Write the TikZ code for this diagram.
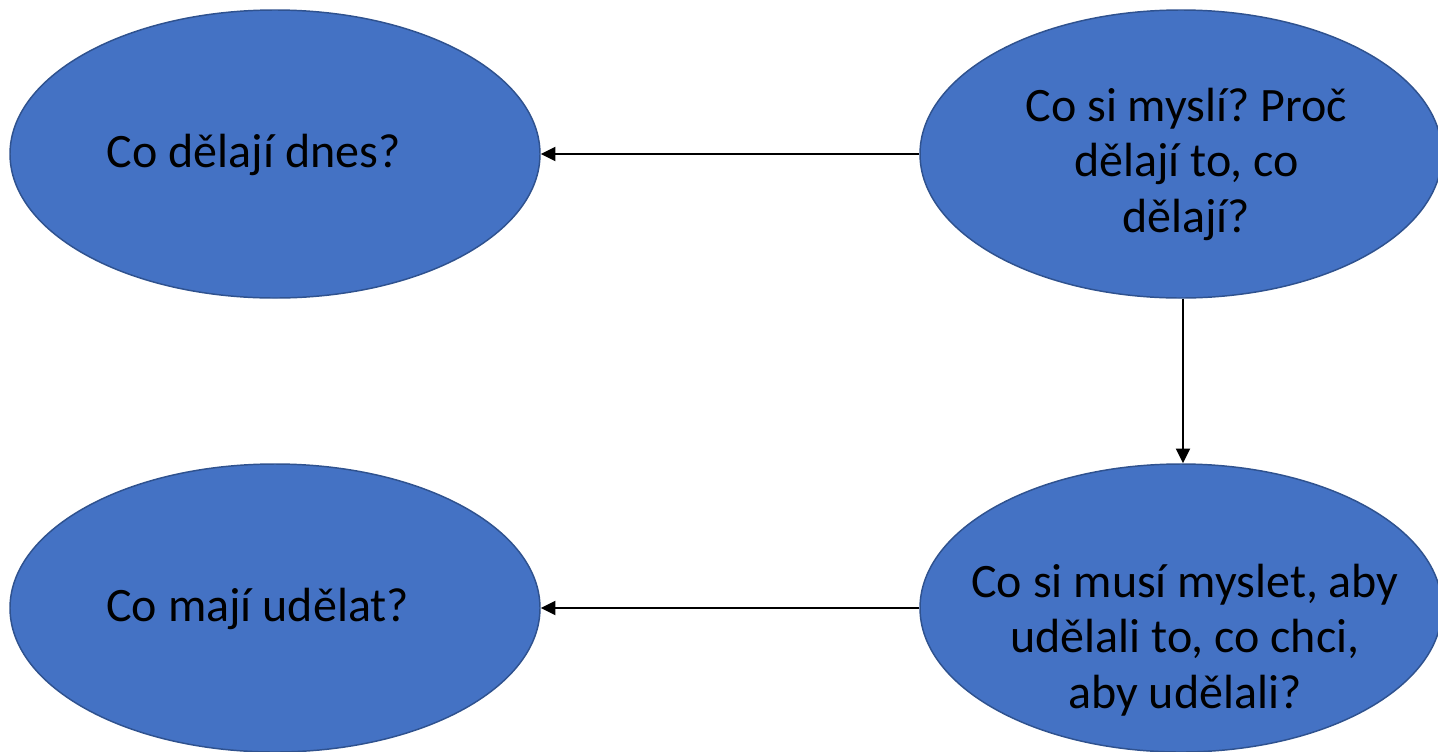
\documentclass[tikz,border=0pt]{standalone}
\usepackage{fontspec}
\setmainfont{Carlito}
\usetikzlibrary{shapes.geometric,arrows.meta}
\definecolor{ellfill}{HTML}{4472C4}
\definecolor{elldraw}{HTML}{2F528F}
\frenchspacing
\begin{document}
\frenchspacing
\begin{tikzpicture}[x=0.75pt,y=-0.75pt,
  bubble/.style={ellipse, fill=ellfill, draw=elldraw, line width=1.1pt,
    inner sep=0pt, minimum width=397.5pt, minimum height=216pt},
  txt/.style={align=center, font=\fontsize{36}{41.6}\selectfont, text=black},
  conn/.style={draw=black, line width=1.5pt, -{Triangle[length=11pt,width=10.5pt]}}]
\useasboundingbox (0,0) rectangle (1438,751);
\node[bubble, label={[txt, xshift=-16pt, yshift=-1pt]center:Co dělají dnes?}] (tl) at (275,154) {};
\node[bubble, minimum width=391.5pt, label={[txt, yshift=-7.5pt, xshift=4pt]center:Co si myslí? Proč\\dělají to, co\\dělají?}] (tr) at (1181,154) {};
\node[bubble, label={[txt, xshift=-13pt, yshift=-1pt]center:Co mají udělat?}] (bl) at (275,608) {};
\node[bubble, minimum width=391.5pt, label={[txt, yshift=-24pt, xshift=3pt]center:Co si musí myslet, aby\\udělali to, co chci,\\aby udělali?}] (br) at (1181,608) {};
\draw[conn] (tr.west) -- (tl.east);
\draw[conn] ([xshift=1.5pt]tr.south) -- ([xshift=1.5pt]br.north);
\draw[conn] (br.west) -- (bl.east);
\end{tikzpicture}
\end{document}
